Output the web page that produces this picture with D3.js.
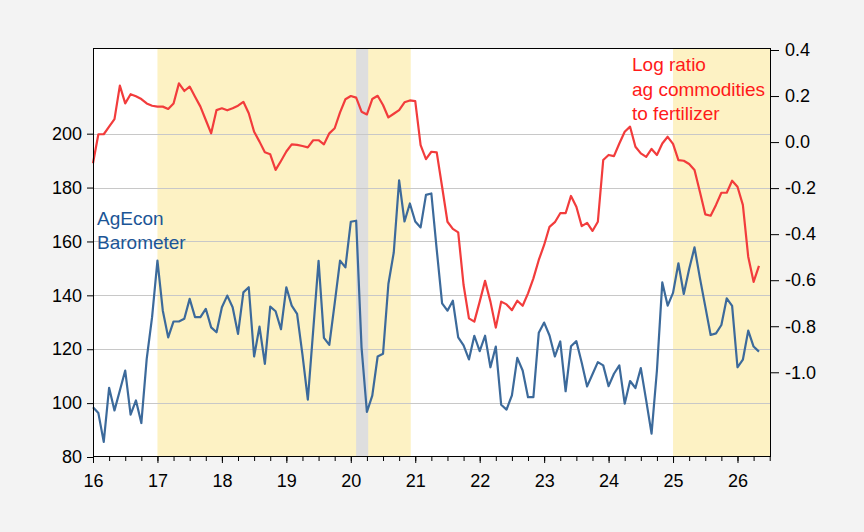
<!DOCTYPE html>
<html>
<head>
<meta charset="utf-8">
<script src="https://cdn.jsdelivr.net/npm/d3@7/dist/d3.min.js"></script>
<style>
  html, body { margin: 0; padding: 0; background: #f3f3f3; }
  svg { display: block; }
  text { font-family: "Liberation Sans", Arial, sans-serif; }
</style>
</head>
<body>
<svg id="chart" width="864" height="532"></svg>
<script>
// ---------- data (monthly, Jan 2016 .. May 2026) ----------
const startYear = 2016;
const agEconBarometer = [
  98.5, 96.3, 85.6, 105.7, 97.3, 104.7, 112.1, 95.7, 101, 92.6, 116.4, 131.9,
  152.9, 134.3, 124.4, 130.3, 130.3, 131.3, 138.7, 131.9, 131.9, 135, 128.1, 126.3,
  135.6, 139.9, 135.6, 125.7, 141.1, 143, 117.3, 128.4, 114.6, 135.8, 134.1, 127.4,
  143, 136.2, 133.1, 118, 101.3, 127, 152.8, 124.2, 121.6, 137, 152.9, 150.4,
  167.3, 167.7, 120.7, 96.7, 102.8, 117.3, 118.3, 144.2, 155.9, 182.7, 167.4, 174.1,
  167.4, 165.2, 177.3, 177.8, 157, 137, 134.3, 138, 124.4, 121.4, 116.2, 125,
  119.3, 125, 113.3, 121, 99.4, 97.6, 102.9, 116.8, 112.1, 102.2, 102.2, 126.1,
  129.9, 125.1, 117.3, 122.9, 104.4, 121.1, 123, 115, 106.2, 110.7, 115.2, 114,
  106.3, 110.9, 114, 99.8, 108.2, 105.6, 113, 101, 88.7, 112.1, 144.8, 136.2,
  140.9, 151.9, 140.5, 149.8, 157.8, 146.5, 135.9, 125.3, 125.9, 129, 138.9, 136.1,
  113.3, 116.1, 126.9, 121, 119.1
];
const logRatioAgFert = [
  -0.092, 0.034, 0.034, 0.067, 0.1, 0.245, 0.168, 0.208, 0.199, 0.187, 0.168, 0.158,
  0.154, 0.154, 0.144, 0.168, 0.255, 0.222, 0.241, 0.197, 0.154, 0.096, 0.038, 0.139,
  0.147, 0.138, 0.147, 0.158, 0.175, 0.125, 0.045, 0.002, -0.044, -0.053, -0.121, -0.082,
  -0.041, -0.01, -0.012, -0.017, -0.023, 0.008, 0.008, -0.01, 0.038, 0.06, 0.129, 0.186,
  0.2, 0.193, 0.132, 0.12, 0.187, 0.201, 0.161, 0.107, 0.123, 0.139, 0.173, 0.181,
  0.178, -0.013, -0.074, -0.042, -0.045, -0.194, -0.346, -0.377, -0.392, -0.621, -0.766, -0.78,
  -0.693, -0.603, -0.693, -0.806, -0.693, -0.705, -0.73, -0.689, -0.711, -0.657, -0.592, -0.512,
  -0.447, -0.368, -0.348, -0.309, -0.309, -0.234, -0.281, -0.365, -0.351, -0.386, -0.346, -0.078,
  -0.056, -0.061, -0.006, 0.045, 0.067, -0.02, -0.049, -0.064, -0.03, -0.056, -0.006, 0.023,
  -0.008, -0.078, -0.081, -0.095, -0.121, -0.216, -0.314, -0.32, -0.273, -0.22, -0.22, -0.168,
  -0.194, -0.273, -0.498, -0.607, -0.538
];
const leftTicks = [80, 100, 120, 140, 160, 180, 200];
const gridTicks = [100, 120, 140, 160, 180, 200];
const rightTicks = [0.4, 0.2, 0.0, -0.2, -0.4, -0.6, -0.8, -1.0];
const yearTicks = [2016, 2017, 2018, 2019, 2020, 2021, 2022, 2023, 2024, 2025, 2026];
const yellowPeriods = [[2017.0, 2020.93], [2025.0, 2026.52]];
const grayPeriods = [[2020.083, 2020.27]];
const blueLabel = ["AgEcon", "Barometer"];
const redLabel = ["Log ratio", "ag commodities", "to fertilizer"];

// ---------- layout ----------
const W = 864, H = 532;
const L = 93, R = 771, T = 48, B = 457;
const svg = d3.select("#chart");

const x = d3.scaleLinear().domain([2016, 2026.52]).range([L, R]);
const yL = d3.scaleLinear().domain([80, 231.8]).range([B, T]);
const yR = d3.scaleLinear().domain([-1.368, 0.4087]).range([B, T]);

svg.append("rect").attr("x", 0).attr("y", 0).attr("width", W).attr("height", H).attr("fill", "#f3f3f3");
svg.append("rect").attr("x", L).attr("y", T).attr("width", R - L).attr("height", B - T).attr("fill", "#ffffff");

// shading
svg.append("g").selectAll("rect").data(yellowPeriods).join("rect")
  .attr("x", d => x(d[0])).attr("width", d => x(d[1]) - x(d[0]))
  .attr("y", T).attr("height", B - T).attr("fill", "#fdf2c4");
svg.append("g").selectAll("rect").data(grayPeriods).join("rect")
  .attr("x", d => x(d[0])).attr("width", d => x(d[1]) - x(d[0]))
  .attr("y", T).attr("height", B - T).attr("fill", "#dedede");

// gridlines
svg.append("g").selectAll("line").data(gridTicks).join("line")
  .attr("x1", L).attr("x2", R)
  .attr("y1", d => Math.round(yL(d)) + 0.5).attr("y2", d => Math.round(yL(d)) + 0.5)
  .attr("stroke", "#c8c8c8").attr("stroke-width", 1);

// lines
const t = i => startYear + i / 12;
const lineBlue = d3.line().x((d, i) => x(t(i))).y(d => yL(d));
const lineRed = d3.line().x((d, i) => x(t(i))).y(d => yR(d));

svg.append("path").datum(agEconBarometer).attr("d", lineBlue)
  .attr("fill", "none").attr("stroke", "#3c6a9b").attr("stroke-width", 2.2)
  .attr("stroke-linejoin", "round");
svg.append("path").datum(logRatioAgFert).attr("d", lineRed)
  .attr("fill", "none").attr("stroke", "#f23c3c").attr("stroke-width", 2.2)
  .attr("stroke-linejoin", "round");

// axes
const fontSize = "18px";
const gL = svg.append("g").attr("transform", `translate(${L},0)`)
  .call(d3.axisLeft(yL).tickValues(leftTicks).tickSize(6).tickPadding(5).tickFormat(d3.format("d")));
const gR = svg.append("g").attr("transform", `translate(${R},0)`)
  .call(d3.axisRight(yR).tickValues(rightTicks).tickSize(8).tickPadding(6).tickFormat(d => d.toFixed(1)));
const quarterTicks = d3.range(2016, 2026.51, 0.25);
const gQ = svg.append("g").attr("transform", `translate(0,${B})`)
  .call(d3.axisBottom(x).tickValues(quarterTicks).tickSize(4).tickFormat(() => ""));
const gX = svg.append("g").attr("transform", `translate(0,${B})`)
  .call(d3.axisBottom(x).tickValues(yearTicks).tickSize(6).tickPadding(11).tickFormat(d => String(d).slice(2)));

[gL, gR, gQ, gX].forEach(g => {
  g.select(".domain").remove();
  g.selectAll(".tick line").attr("stroke", "#000").attr("stroke-width", 1);
  g.selectAll(".tick text").attr("fill", "#000").style("font-size", fontSize)
    .style("font-family", "'Liberation Sans', Arial, sans-serif");
});

// frame
svg.append("rect").attr("x", L + 0.5).attr("y", T + 0.5).attr("width", R - L - 1).attr("height", B - T - 1)
  .attr("fill", "none").attr("stroke", "#000").attr("stroke-width", 1);

// labels
svg.append("text").attr("x", 97).attr("y", 225).attr("fill", "#1b5596").style("font-size", "19px")
  .selectAll("tspan").data(blueLabel).join("tspan")
  .attr("x", 97).attr("dy", (d, i) => i === 0 ? 0 : 24).text(d => d);
svg.append("text").attr("x", 632).attr("y", 71).attr("fill", "#ff1a1a").style("font-size", "19px")
  .selectAll("tspan").data(redLabel).join("tspan")
  .attr("x", 632).attr("dy", (d, i) => i === 0 ? 0 : 24.5).text(d => d);
</script>
</body>
</html>
